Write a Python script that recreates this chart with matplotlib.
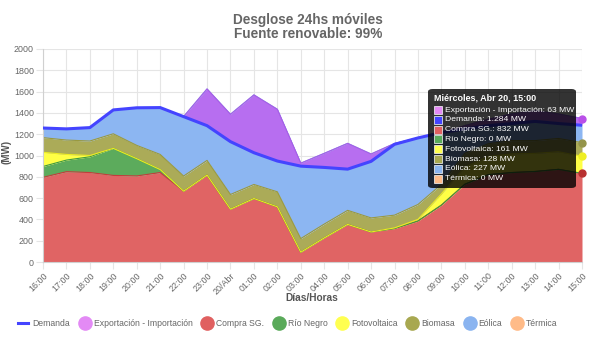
import matplotlib
matplotlib.use("Agg")
import matplotlib.pyplot as plt
from matplotlib.lines import Line2D
from matplotlib.patches import FancyBboxPatch, Rectangle
import numpy as np

plt.rcParams['font.family'] = ['Liberation Sans', 'DejaVu Sans']

horas = ['16:00', '17:00', '18:00', '19:00', '20:00', '21:00', '22:00', '23:00',
         '20/Abr', '01:00', '02:00', '03:00', '04:00', '05:00', '06:00', '07:00',
         '08:00', '09:00', '10:00', '11:00', '12:00', '13:00', '14:00', '15:00']

demanda = [1258, 1250, 1262, 1428, 1448, 1450, 1365, 1280, 1130, 1026, 948, 900,
           888, 872, 945, 1105, 1165, 1215, 1250, 1280, 1300, 1320, 1300, 1284]
exportacion = [0, 0, 0, 0, 0, 0, 0, 345, 257, 543, 486, 28,
               132, 242, 69, 8, 0, 0, 30, 60, 90, 100, 90, 63]
compra_sg = [795, 848, 840, 813, 808, 840, 665, 816, 496, 596, 518, 92,
             226, 353, 282, 314, 385, 534, 730, 820, 840, 850, 870, 832]
rio_negro = [102, 109, 148, 254, 162, 28, 0, 0, 0, 0, 0, 0,
             0, 0, 0, 0, 0, 0, 0, 0, 0, 0, 0, 0]
fotovoltaica = [133, 53, 12, 0, 0, 0, 0, 0, 0, 0, 0, 0,
                0, 0, 0, 6, 15, 105, 160, 170, 175, 170, 165, 161]
biomasa = [138, 135, 136, 137, 125, 142, 142, 138, 138, 132, 141, 128,
           130, 132, 132, 120, 140, 90, 130, 120, 125, 120, 125, 128]
eolica = [90, 105, 126, 224, 353, 440, 558, 671, 753, 841, 775, 708,
          664, 629, 600, 673, 625, 486, 260, 230, 250, 280, 230, 227]
termica = [0] * 24

# stacked generation, bottom to top: (name, values, fill, edge, legend colour)
fuentes = [
    ('Compra SG.', compra_sg, '#e06464', '#c43c3c', '#e06060'),
    ('Río Negro', rio_negro, '#5cab5c', '#3f9a3f', '#5aaa5a'),
    ('Fotovoltaica', fotovoltaica, '#ffff45', '#eded20', '#ffff50'),
    ('Biomasa', biomasa, '#abab58', '#999940', '#a8a850'),
    ('Eólica', eolica, '#8cb6f2', '#7aa6ea', '#8ab4f0'),
    ('Térmica', termica, '#ffbb88', '#ffa060', '#ffbb88'),
]

W, H = 589, 339
fig = plt.figure(figsize=(W / 100, H / 100), dpi=100)
ax = fig.add_axes([43 / W, 1 - 262 / H, (582 - 43) / W, (262 - 49) / H])

x = np.arange(len(horas))
base = np.zeros(len(horas))
for nombre, vals, fc, ec, _ in fuentes:
    top = base + np.array(vals)
    ax.fill_between(x, base, top, color=fc, lw=0, zorder=2)
    if any(vals):
        ax.plot(x, top, color=ec, lw=0.8, zorder=2.5)
    base = top

dem = np.array(demanda)
exp_top = dem + np.array(exportacion)
ax.fill_between(x, dem, exp_top, color='#b76ef0', lw=0, zorder=3)
ax.plot(x, exp_top, color='#a75de6', lw=0.8, zorder=3)
ax.plot(x, dem, color='#4444ff', lw=2.2, zorder=4, solid_capstyle='round')

# highlighted points at the last hour
i = len(horas) - 1
pila = np.cumsum([compra_sg[i], rio_negro[i], fotovoltaica[i], biomasa[i]])
puntos = [(exp_top[i], '#b94fe8'), (pila[3], '#94944a'),
          (pila[2], '#eeee22'), (pila[0], '#b83030')]
for yv, c in puntos:
    ax.plot([x[i]], [yv], 'o', ms=5, color=c, zorder=6, clip_on=False)

ax.set_xlim(0, len(horas) - 1)
ax.set_ylim(0, 2000)
ax.set_yticks(range(0, 2001, 200))
ax.set_xticks(x)
ax.set_xticklabels(horas, rotation=45, ha='right', rotation_mode='anchor')
ax.tick_params(labelsize=6.4, colors='#666666', length=5, width=0.8, pad=1.5)
ax.tick_params(axis='both', color='#e5e5e5')
ax.grid(True, color='#e5e5e5', lw=0.8, zorder=0)
ax.set_axisbelow(True)
for s in ax.spines.values():
    s.set_visible(False)
ax.spines['left'].set_visible(True)
ax.spines['left'].set_color('#d0d0d0')
ax.spines['bottom'].set_visible(True)
ax.spines['bottom'].set_color('#d0d0d0')

fig.text(308 / W, 1 - 20 / H, 'Desglose 24hs móviles', ha='center', va='center',
         fontsize=9.8, fontweight='bold', color='#666666')
fig.text(308 / W, 1 - 34 / H, 'Fuente renovable: 99%', ha='center', va='center',
         fontsize=9.8, fontweight='bold', color='#666666')
fig.text(7 / W, 1 - 152 / H, '(MW)', ha='center', va='center', rotation=90,
         fontsize=7, fontweight='bold', color='#555555')
fig.text(312 / W, 1 - 298 / H, 'Días/Horas', ha='center', va='center',
         fontsize=7.3, fontweight='bold', color='#555555')

# legend
handles = [Line2D([], [], color='#4444ff', lw=2.2)]
labels = ['Demanda']
handles.append(Line2D([], [], ls='none', marker='o', ms=9.5, color='#e38af5'))
labels.append('Exportación - Importación')
for nombre, _, _, _, lc in fuentes:
    handles.append(Line2D([], [], ls='none', marker='o', ms=9.5, color=lc))
    labels.append(nombre)
fig.legend(handles, labels, loc='center', bbox_to_anchor=(288 / W, 1 - 324 / H),
           ncol=8, frameon=False, fontsize=6.2, handlelength=1.1,
           handletextpad=0.5, columnspacing=1.15, labelcolor='#666666')

# tooltip for the last hour
def fx(px):
    return px / W

def fy(py):
    return 1 - py / H

caja = FancyBboxPatch((fx(428), fy(188)), fx(576) - fx(428), fy(89) - fy(188),
                      boxstyle='round,pad=0,rounding_size=0.008',
                      transform=fig.transFigure, fc=(0, 0, 0, 0.8), ec='none',
                      zorder=10)
fig.add_artist(caja)
fig.text(fx(434), fy(98), 'Miércoles, Abr 20, ' + horas[i], color='white',
         fontsize=6.5, fontweight='bold', va='center', zorder=11)
filas = [('Exportación - Importación', exportacion[i], '#e38af5'),
         ('Demanda', demanda[i], '#4444ff'),
         ('Compra SG.', compra_sg[i], '#e06060'),
         ('Río Negro', rio_negro[i], '#5aaa5a'),
         ('Fotovoltaica', fotovoltaica[i], '#ffff50'),
         ('Biomasa', biomasa[i], '#a8a850'),
         ('Eólica', eolica[i], '#8ab4f0'),
         ('Térmica', termica[i], '#ffbb88')]
for k, (nombre, v, c) in enumerate(filas):
    yy = 110 + k * 9.8
    fig.add_artist(Rectangle((fx(434), fy(yy + 4)), fx(8), 8 / H,
                             transform=fig.transFigure, fc=c, ec='white',
                             lw=0.5, zorder=11))
    valor = f'{v:,}'.replace(',', '.')
    fig.text(fx(445), fy(yy), f'{nombre}: {valor} MW', color='white',
             fontsize=6.1, va='center', zorder=11)

fig.savefig('out.png', dpi=100)
